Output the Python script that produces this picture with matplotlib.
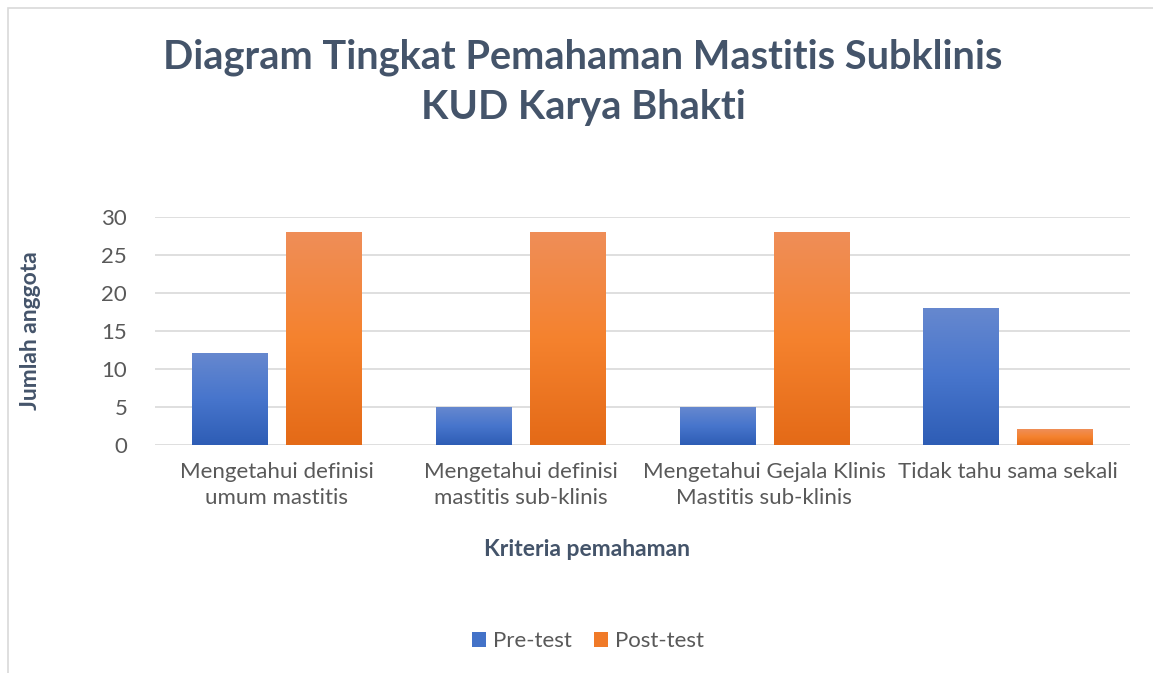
import matplotlib.pyplot as plt
import numpy as np
from matplotlib.colors import LinearSegmentedColormap
from matplotlib.patches import Rectangle, Patch

categories = ["Mengetahui definisi\numum mastitis",
              "Mengetahui definisi\nmastitis sub-klinis",
              "Mengetahui Gejala Klinis\nMastitis sub-klinis",
              "Tidak tahu sama sekali"]
pre_test = [12, 5, 5, 18]
post_test = [28, 28, 28, 2]
series_names = ["Pre-test", "Post-test"]
yticks = [0, 5, 10, 15, 20, 25, 30]

plt.rcParams['font.family'] = ['Lato', 'DejaVu Sans']
slate = '#44546A'
grey = '#595959'

fig = plt.figure(figsize=(11.53, 6.73), dpi=100)
W, H = 1153, 673
ax = fig.add_axes([155 / W, 228 / H, 975 / W, 228 / H])

# outer frame of the chart
fig.patches.append(Rectangle((8 / W, -0.05), 1.2, (665 / H) + 0.05, transform=fig.transFigure,
                             fill=False, edgecolor='#D9D9D9', linewidth=1.2))

blue_cmap = LinearSegmentedColormap.from_list('b', ['#2E5DB5', '#4775CC', '#6688CF'])
orange_cmap = LinearSegmentedColormap.from_list('o', ['#E46A17', '#F5822E', '#EF8E58'])

x = np.arange(len(categories))
w = 0.31
off = 0.193
grad = np.linspace(0, 1, 256).reshape(-1, 1)

def grad_bar(xc, h, cmap):
    if h <= 0:
        return
    ax.imshow(grad, extent=[xc - w / 2, xc + w / 2, 0, h], origin='lower',
              cmap=cmap, aspect='auto', zorder=3, interpolation='bicubic')

for i in range(len(categories)):
    grad_bar(x[i] - off, pre_test[i], blue_cmap)
    grad_bar(x[i] + off, post_test[i], orange_cmap)

ax.set_xlim(-0.5, len(categories) - 0.5)
ax.set_ylim(0, 30)
ax.set_yticks(yticks)
ax.set_xticks(x)
ax.set_xticklabels(categories, fontsize=16, color=grey, linespacing=1.4)
ax.tick_params(axis='y', labelsize=16, labelcolor=grey, length=0, pad=20)
ax.tick_params(axis='x', length=0, pad=12)
ax.grid(axis='y', color='#D9D9D9', linewidth=1.2, zorder=0)
ax.set_axisbelow(True)
for s in ax.spines.values():
    s.set_visible(False)

ax.set_ylabel("Jumlah anggota", fontsize=16.5, fontweight='bold', color=slate)
ax.yaxis.set_label_coords(-125 / 975, 0.5)
ax.yaxis.label.set_va('center')
ax.set_xlabel("Kriteria pemahaman", fontsize=16.5, fontweight='bold', color=slate)
ax.xaxis.set_label_coords((587 - 155) / 975, -(549 - 445) / 228)
ax.xaxis.label.set_va('center')

fig.text(583 / W, 1 - 82 / H, "Diagram Tingkat Pemahaman Mastitis Subklinis\nKUD Karya Bhakti",
         ha='center', va='center', fontsize=28.6, fontweight='bold', color=slate, linespacing=1.45)

handles = [Patch(facecolor='#4372C8', edgecolor='none'), Patch(facecolor='#F07A28', edgecolor='none')]
fig.legend(handles, series_names, loc='center', bbox_to_anchor=(588 / W, 1 - 641 / H), ncol=2,
           frameon=False, fontsize=16, labelcolor=grey, handlelength=0.64, handleheight=0.64,
           columnspacing=1.0, handletextpad=0.3)

fig.savefig("out.png", dpi=100)
